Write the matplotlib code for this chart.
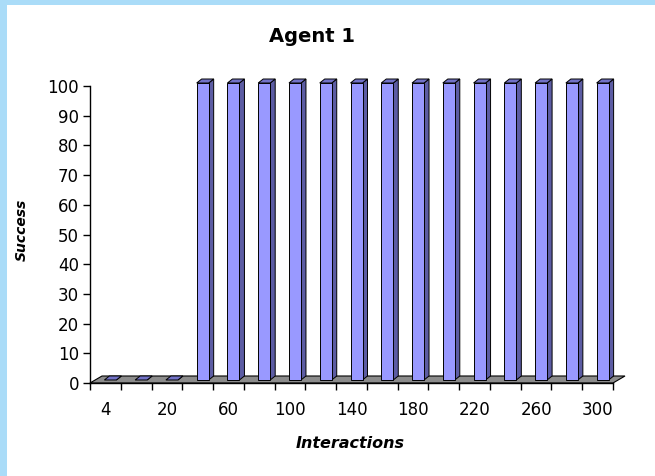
import matplotlib
matplotlib.use("Agg")
import matplotlib.pyplot as plt
from matplotlib.patches import Polygon, Rectangle

# interaction counts on the category axis and success rate (%) for each
interactions = [4, 10, 20, 40, 60, 80, 100, 120, 140, 160, 180, 200, 220, 240, 260, 280, 300]
success = [0, 0, 0, 100, 100, 100, 100, 100, 100, 100, 100, 100, 100, 100, 100, 100, 100]
y_ticks = [0, 10, 20, 30, 40, 50, 60, 70, 80, 90, 100]

W, H = 655, 476
fig = plt.figure(figsize=(W / 100, H / 100), dpi=100)
fig.patch.set_facecolor('white')

# light blue border on the left and top edges
fig.patches.append(Rectangle((0, 0), 7 / W, 1, transform=fig.transFigure,
                             facecolor='#aadcf8', edgecolor='none'))
fig.patches.append(Rectangle((0, 1 - 5 / H), 1, 5 / H, transform=fig.transFigure,
                             facecolor='#aadcf8', edgecolor='none'))

# plot box in pixels: x 90..613, y 86..383
left, right, top, bottom = 90, 613, 86, 383
ax = fig.add_axes([left / W, 1 - bottom / H, (right - left) / W, (bottom - top) / H])
n = len(interactions)
ax.set_xlim(0, n)
ax.set_ylim(0, 100)

px_x = n / (right - left)      # data units per pixel, horizontal
px_y = 100 / (bottom - top)    # data units per pixel, vertical

# floor depth
fdx, fdy = 12 * px_x, 7 * px_y
floor = Polygon([(0, 0), (n, 0), (n + fdx, fdy), (fdx, fdy)], closed=True,
                facecolor='#8c8c8c', edgecolor='black', linewidth=0.8,
                clip_on=False, zorder=1)
ax.add_patch(floor)

# bars: front face, side face and top face
bw = 12 * px_x
sx, sy = 5 * px_x, 3 * px_y
bdx, bdy = 5 * px_x, 4 * px_y
front_c, side_c, top_c = '#9999ff', '#5c5ca3', '#7272c6'
for i, v in enumerate(success):
    x0 = i + 0.5 - bw / 2 + sx
    x1 = x0 + bw
    y0 = sy
    y1 = v + sy
    side = Polygon([(x1, y0), (x1 + bdx, y0 + bdy), (x1 + bdx, y1 + bdy), (x1, y1)],
                   closed=True, facecolor=side_c, edgecolor='black', linewidth=0.7,
                   clip_on=False, zorder=3)
    topf = Polygon([(x0, y1), (x1, y1), (x1 + bdx, y1 + bdy), (x0 + bdx, y1 + bdy)],
                   closed=True, facecolor=top_c, edgecolor='black', linewidth=0.7,
                   clip_on=False, zorder=3)
    ax.add_patch(side)
    ax.add_patch(topf)
    if v > 0:
        front = Rectangle((x0, y0), bw, v, facecolor=front_c, edgecolor='black',
                          linewidth=0.7, clip_on=False, zorder=4)
        ax.add_patch(front)

ax.set_facecolor('none')
for s in ['top', 'right']:
    ax.spines[s].set_visible(False)
for s in ['left', 'bottom']:
    ax.spines[s].set_color('black')
    ax.spines[s].set_linewidth(1.0)
    ax.spines[s].set_zorder(5)

ax.set_yticks(y_ticks)
ax.set_yticklabels([str(t) for t in y_ticks])
ax.set_xticks(range(n + 1))
ax.set_xticklabels([])
ax.set_xticks([i + 0.5 for i in range(0, n, 2)], minor=True)
ax.set_xticklabels([str(interactions[i]) for i in range(0, n, 2)], minor=True)
ax.tick_params(axis='x', which='major', direction='out', length=5, width=1, color='black')
ax.tick_params(axis='x', which='minor', length=0, pad=13, labelsize=12)
ax.tick_params(axis='y', direction='out', length=5, width=1, pad=3, labelsize=12)

fig.text(312 / W, 1 - 36 / H, 'Agent 1', ha='center', va='center',
         fontsize=14, fontweight='bold', family='DejaVu Sans')
fig.text(350 / W, 1 - 443 / H, 'Interactions', ha='center', va='center',
         fontsize=11.5, fontweight='bold', fontstyle='italic', family='DejaVu Sans')
fig.text(22 / W, 1 - 230 / H, 'Success', ha='center', va='center', rotation=90,
         fontsize=10, fontweight='bold', fontstyle='italic', family='DejaVu Sans')

fig.savefig('out.png', dpi=100)
